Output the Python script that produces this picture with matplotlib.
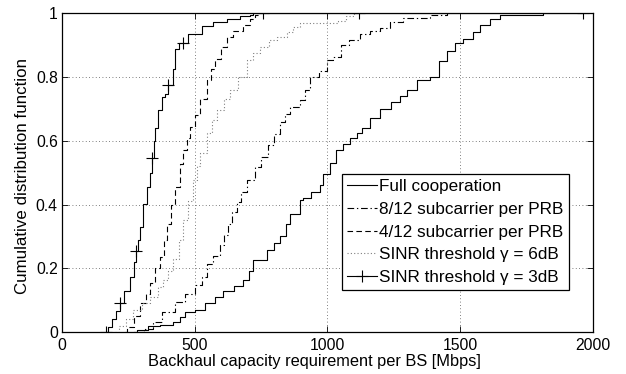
import matplotlib
matplotlib.use("Agg")
import matplotlib.pyplot as plt
from matplotlib.ticker import FixedLocator, FuncFormatter

plt.rcParams['font.family'] = ['Liberation Sans', 'DejaVu Sans']

# ---- data ----
full_x = [271, 281, 324, 369, 419, 444, 463, 500, 539, 576, 607, 650, 682, 705, 720, 771, 800, 821,
          845, 859, 896, 909, 940, 972, 985, 1010, 1034, 1060, 1085, 1110, 1130, 1160, 1198, 1240,
          1273, 1300, 1336, 1386, 1420, 1449, 1480, 1511, 1549, 1574, 1612, 1650, 1812]
full_y = [0, 0.006, 0.02, 0.022, 0.032, 0.048, 0.064, 0.069, 0.09, 0.11, 0.13, 0.145, 0.163, 0.19,
          0.226, 0.257, 0.28, 0.30, 0.34, 0.37, 0.414, 0.42, 0.44, 0.46, 0.497, 0.53, 0.57, 0.59,
          0.61, 0.625, 0.64, 0.67, 0.70, 0.72, 0.74, 0.76, 0.79, 0.80, 0.85, 0.88, 0.905, 0.92,
          0.94, 0.962, 0.983, 0.994, 1.0]

sc8_x = [285, 310, 344, 375, 425, 463, 500, 526, 545, 570, 595, 610, 626, 642, 658, 676, 696, 727,
         750, 777, 800, 820, 840, 859, 896, 915, 934, 970, 1000, 1022, 1050, 1080, 1122, 1160,
         1198, 1236, 1286, 1386, 1449]
sc8_y = [0, 0.01, 0.032, 0.064, 0.095, 0.12, 0.147, 0.173, 0.215, 0.24, 0.273, 0.305, 0.34, 0.375,
         0.408, 0.44, 0.476, 0.518, 0.55, 0.586, 0.62, 0.66, 0.685, 0.705, 0.727, 0.76, 0.80, 0.82,
         0.853, 0.863, 0.90, 0.915, 0.936, 0.945, 0.953, 0.973, 0.986, 0.994, 1.0]

sc4_x = [237, 244, 270, 294, 315, 331, 350, 369, 385, 394, 410, 425, 444, 457, 470, 482, 500, 520,
         545, 560, 576, 600, 620, 645, 683, 708, 727, 740]
sc4_y = [0, 0.017, 0.05, 0.09, 0.12, 0.153, 0.2, 0.236, 0.29, 0.34, 0.40, 0.455, 0.528, 0.57, 0.61,
         0.643, 0.68, 0.73, 0.79, 0.825, 0.857, 0.895, 0.926, 0.945, 0.962, 0.983, 0.994, 1.0]

db6_x = [200, 215, 240, 268, 300, 331, 360, 381, 400, 419, 440, 457, 475, 494, 507, 520, 545, 565,
         583, 610, 633, 665, 696, 720, 746, 780, 809, 846, 871, 896, 1040, 1070, 1100]
db6_y = [0, 0.02, 0.04, 0.069, 0.09, 0.11, 0.14, 0.163, 0.19, 0.23, 0.29, 0.35, 0.41, 0.476, 0.52,
         0.56, 0.623, 0.665, 0.696, 0.73, 0.759, 0.80, 0.853, 0.875, 0.894, 0.915, 0.926, 0.94,
         0.957, 0.968, 0.975, 0.99, 1.0]

db3_x = [166, 175, 190, 205, 218, 235, 256, 270, 279, 287, 294, 306, 319, 330, 338, 345, 350, 363,
         375, 388, 400, 419, 426, 440, 457, 475, 526, 569, 620, 670, 708, 720, 758, 1120, 1963]
db3_y = [0, 0.015, 0.04, 0.065, 0.09, 0.13, 0.173, 0.22, 0.255, 0.29, 0.33, 0.403, 0.455, 0.5,
         0.545, 0.6, 0.64, 0.696, 0.737, 0.745, 0.774, 0.824, 0.889, 0.905, 0.905, 0.936, 0.959,
         0.973, 0.981, 0.99, 0.995, 1.0, 1.0, 1.0, 1.0]
db3_marker_x = [166, 218, 279, 338, 400, 457, 758, 1120, 1963]

labels = ["Full cooperation", "8/12 subcarrier per PRB", "4/12 subcarrier per PRB",
          "SINR threshold \u03b3 = 6dB", "SINR threshold \u03b3 = 3dB"]

x_ticks = [0, 500, 1000, 1500, 2000]
y_ticks = [0, 0.2, 0.4, 0.6, 0.8, 1]

TFS = 11.3
FS = 11.8
LFS = 12.3

fig = plt.figure(figsize=(6.26, 3.74), dpi=100)
ax = fig.add_axes([0.099, 0.112, 0.848, 0.853])

lw = 0.8
ax.plot(full_x, full_y, drawstyle='steps-post', color='black', lw=lw, ls='-', label=labels[0])
ax.plot(sc8_x, sc8_y, drawstyle='steps-post', color='black', lw=lw, ls=(0, (6, 2.5, 1.2, 2.5)), label=labels[1])
ax.plot(sc4_x, sc4_y, drawstyle='steps-post', color='black', lw=lw, ls=(0, (5, 3)), label=labels[2])
ax.plot(db6_x, db6_y, drawstyle='steps-post', color='#808080', lw=lw, ls=(0, (1, 2)), label=labels[3])
mk_idx = [db3_x.index(v) for v in db3_marker_x]
ax.plot(db3_x, db3_y, drawstyle='steps-post', color='black', lw=lw, ls='-', marker='+',
        markersize=8, markeredgewidth=0.8, markevery=mk_idx, label=labels[4])

ax.set_xlim(0, 2000)
ax.set_ylim(0, 1)
ax.xaxis.set_major_locator(FixedLocator(x_ticks))
ax.yaxis.set_major_locator(FixedLocator(y_ticks))
ax.yaxis.set_major_formatter(FuncFormatter(lambda v, p: ('%g' % v)))
ax.tick_params(direction='in', top=True, right=True, length=4, width=0.6, labelsize=TFS)
ax.tick_params(axis='x', pad=4.5)
ax.tick_params(axis='y', pad=3)
ax.grid(True, ls=(0, (1, 3)), color='#555555', lw=0.6)
for s in ax.spines.values():
    s.set_linewidth(0.9)
    s.set_color('black')

ax.set_xlabel("Backhaul capacity requirement per BS [Mbps]", fontsize=FS)
ax.set_ylabel("Cumulative distribution function", fontsize=12.2)
ax.xaxis.set_label_coords(0.476, -0.068)
ax.yaxis.set_label_coords(-0.060, 0.49)

leg = ax.legend(loc='upper left', bbox_to_anchor=(0.527, 0.495), fontsize=LFS, frameon=True,
                fancybox=False, edgecolor='black', framealpha=1, handlelength=1.75,
                handletextpad=0.15, labelspacing=0.45, borderpad=0.3, borderaxespad=0)
leg.get_frame().set_linewidth(0.9)

fig.savefig("out.png", dpi=100)
